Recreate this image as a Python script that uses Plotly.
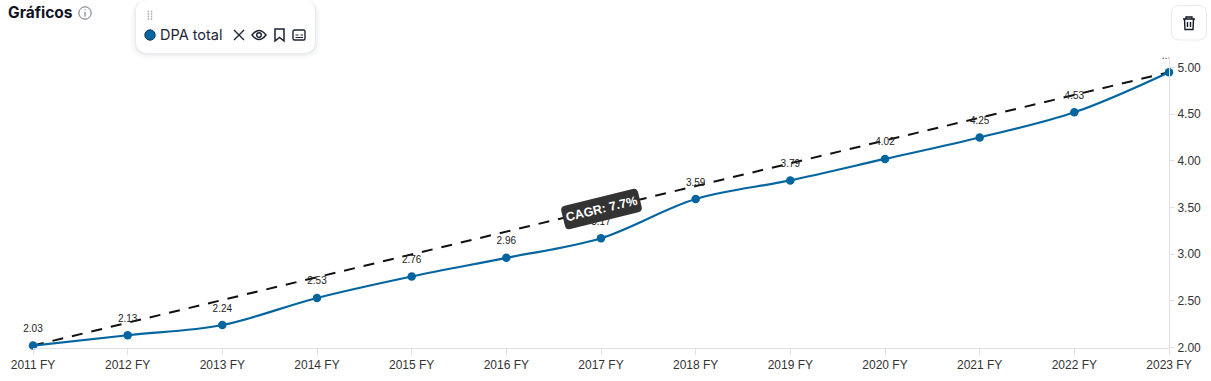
import math
import re
import plotly.graph_objects as go

W, H = 1211, 381

years = ["2011 FY", "2012 FY", "2013 FY", "2014 FY", "2015 FY", "2016 FY", "2017 FY",
         "2018 FY", "2019 FY", "2020 FY", "2021 FY", "2022 FY", "2023 FY"]
dpa_total = [2.02, 2.13, 2.24, 2.53, 2.76, 2.96, 3.17, 3.59, 3.79, 4.02, 4.25, 4.52, 4.95]
dpa_labels = ["2.03", "2.13", "2.24", "2.53", "2.76", "2.96", "3.17", "3.59", "3.79", "4.02", "4.25", "4.53", "4.95"]
y_ticks = [2.0, 2.5, 3.0, 3.5, 4.0, 4.5, 5.0]
y_tick_labels = ["2.00", "2.50", "3.00", "3.50", "4.00", "4.50", "5.00"]
cagr_label = "CAGR: 7.7%"

BLUE = "#04659f"
AX = "#e0e2e6"
PLOT_L, PLOT_R, PLOT_T, PLOT_B = 33, 1169, 57.5, 347.5
PX_PER_UNIT = 93.3


def px(x, y):
    return x / W, 1 - y / H


def path(d):
    """Turn a path written in page pixels into paper coordinates."""
    toks = re.findall(r"[A-Za-z]|-?\d+\.?\d*", d)
    out, pending = [], []
    for t in toks:
        if t.isalpha():
            out.append(t)
        else:
            pending.append(float(t))
            if len(pending) == 2:
                a, b = px(*pending)
                out.append(f"{a:.6f},{b:.6f}")
                pending = []
    return " ".join(out)


def rrect(x0, y0, x1, y1, r):
    return (f"M {x0+r} {y0} L {x1-r} {y0} Q {x1} {y0} {x1} {y0+r} L {x1} {y1-r} Q {x1} {y1} {x1-r} {y1} "
            f"L {x0+r} {y1} Q {x0} {y1} {x0} {y1-r} L {x0} {y0+r} Q {x0} {y0} {x0+r} {y0} Z")


def rotated_rrect(cx, cy, w, h, r, deg):
    """Rounded rectangle centred on (cx, cy), turned by deg, in page pixels."""
    a = math.radians(deg)

    def t(u, v):
        return f"{cx + u*math.cos(a) - v*math.sin(a):.2f} {cy + u*math.sin(a) + v*math.cos(a):.2f}"

    x0, x1, y0, y1 = -w / 2, w / 2, -h / 2, h / 2
    return (f"M {t(x0+r, y0)} L {t(x1-r, y0)} Q {t(x1, y0)} {t(x1, y0+r)} L {t(x1, y1-r)} "
            f"Q {t(x1, y1)} {t(x1-r, y1)} L {t(x0+r, y1)} Q {t(x0, y1)} {t(x0, y1-r)} "
            f"L {t(x0, y0+r)} Q {t(x0, y0)} {t(x0+r, y0)} Z")


def circle(cx, cy, r, **kw):
    x0, y1 = px(cx - r, cy - r)
    x1, y0 = px(cx + r, cy + r)
    return dict(type="circle", xref="paper", yref="paper", x0=x0, x1=x1, y0=y0, y1=y1, **kw)


def pshape(d, color="#1d2433", width=1.4, fill=None):
    return dict(type="path", xref="paper", yref="paper", path=path(d),
                line=dict(color=color, width=width), fillcolor=fill or "rgba(0,0,0,0)")


fig = go.Figure()

# CAGR trend
fig.add_trace(go.Scatter(
    x=[years[0], years[-1]], y=[dpa_total[0], dpa_total[-1]], mode="lines",
    line=dict(color="#111111", width=2, dash="11px,9px"), cliponaxis=False, hoverinfo="skip"))

# main series
fig.add_trace(go.Scatter(
    x=years, y=dpa_total, mode="lines+markers",
    line=dict(color=BLUE, width=2.2, shape="spline", smoothing=1.0),
    marker=dict(color=BLUE, size=8.5), cliponaxis=False))

# value labels, offset by an invisible marker radius; the last one is clipped by the plot top
fig.add_trace(go.Scatter(
    x=years[:-1], y=dpa_total[:-1], text=dpa_labels[:-1], mode="markers+text",
    textposition="top center", textfont=dict(family="Liberation Sans", size=10, color="#222222"),
    marker=dict(size=16, color="rgba(0,0,0,0)"), cliponaxis=False, hoverinfo="skip"))
fig.add_trace(go.Scatter(
    x=years[-1:], y=dpa_total[-1:], text=dpa_labels[-1:], mode="markers+text",
    textposition="top center", textfont=dict(family="Liberation Sans", size=10, color="#222222"),
    marker=dict(size=16, color="rgba(0,0,0,0)"), cliponaxis=True, hoverinfo="skip"))

shapes = []
# legend card with soft shadow
for grow, alpha in [(6, 0.012), (4, 0.018), (2.5, 0.025), (1.2, 0.035)]:
    shapes.append(dict(type="path", xref="paper", yref="paper",
                       path=path(rrect(136 - grow, 0, 315 + grow, 53 + grow + 0.5, 12 + grow)),
                       line=dict(width=0), fillcolor=f"rgba(20,30,50,{alpha})"))
shapes.append(dict(type="path", xref="paper", yref="paper", path=path(rrect(136, 0, 315, 53, 12)),
                   line=dict(width=0), fillcolor="#ffffff"))
# drag handle dots
for gx in (148.3, 151.5):
    for gy in (11.5, 14, 16.5, 19):
        shapes.append(circle(gx, gy, 0.9, line=dict(width=0), fillcolor="#b4b8bf"))
# legend dot
shapes.append(circle(150, 35, 5.2, line=dict(color="#16385a", width=1), fillcolor=BLUE))
# close X
shapes.append(pshape("M 234 30 L 244 40 M 244 30 L 234 40"))
# eye
shapes.append(pshape("M 252 35 Q 259 26 266 35 Q 259 44 252 35 Z", width=1.5))
shapes.append(circle(259, 35, 2.3, line=dict(color="#1d2433", width=1.4), fillcolor="rgba(0,0,0,0)"))
# bookmark
shapes.append(pshape("M 275 29 L 284 29 L 284 41 L 279.5 37.5 L 275 41 Z", width=1.5))
# id card
shapes.append(pshape(rrect(293, 30, 305, 40, 1.5), width=1.4))
shapes.append(pshape("M 295.5 35 L 298.5 35 M 300.5 35 L 303 35 M 295.5 37.5 L 303 37.5", width=1))
# info icon
shapes.append(circle(85, 13, 6.2, line=dict(color="#6b7280", width=1), fillcolor="rgba(0,0,0,0)"))
shapes.append(pshape("M 85 12 L 85 16.5", color="#6b7280", width=1.1))
shapes.append(circle(85, 9.8, 0.6, line=dict(width=0), fillcolor="#6b7280"))
# trash button
shapes.append(pshape(rrect(1171.5, 5.5, 1206.5, 40, 8), color="#e8e9ec", width=1, fill="#ffffff"))
shapes.append(pshape("M 1183 19 L 1195 19 M 1186 19 L 1186 17 L 1192 17 L 1192 19 "
                     "M 1184.5 19 L 1185 29.5 L 1193 29.5 L 1193.5 19 "
                     "M 1187.5 22 L 1187.5 27 M 1190.5 22 L 1190.5 27", color="#111827", width=1.4))
# CAGR badge, rotated rounded rectangle
shapes.append(dict(type="path", xref="paper", yref="paper",
                   path=path(rotated_rrect(601.5, 209, 79, 24, 4.5, -13.8)),
                   line=dict(width=0), fillcolor="#333333"))

annotations = [
    dict(x=6 / W, y=1 - 12.5 / H, xref="paper", yref="paper", xanchor="left", yanchor="middle",
         text="<b>Gráficos</b>", showarrow=False, font=dict(family="Inter", size=15.5, color="#10141f")),
    dict(x=158 / W, y=1 - 35 / H, xref="paper", yref="paper", xanchor="left", yanchor="middle",
         text="DPA total", showarrow=False, font=dict(family="Inter", size=14.5, color="#1d2433")),
    dict(x=601.5 / W, y=1 - 208.5 / H, xref="paper", yref="paper", xanchor="center", yanchor="middle",
         text=f"<b>{cagr_label}</b>", textangle=-13.6, showarrow=False,
         font=dict(family="Liberation Sans", size=12.5, color="#ffffff")),
]

fig.update_layout(
    width=W, height=H, margin=dict(l=0, r=0, t=0, b=0), autosize=False,
    paper_bgcolor="#ffffff", plot_bgcolor="#ffffff", showlegend=False,
    shapes=shapes, annotations=annotations,
    xaxis=dict(
        domain=[PLOT_L / W, PLOT_R / W], type="category", categoryorder="array", categoryarray=years,
        range=[0, len(years) - 1], showgrid=False, zeroline=False, showline=True, linecolor=AX, linewidth=1,
        ticks="outside", ticklen=6, tickcolor=AX, tickfont=dict(family="Liberation Sans", size=12, color="#333333"),
        anchor="y", automargin=False),
    yaxis=dict(
        domain=[1 - PLOT_B / H, 1 - PLOT_T / H], side="right", anchor="x",
        range=[2 - 0.001, 5 + 10 / PX_PER_UNIT],
        tickvals=y_ticks, ticktext=y_tick_labels, showgrid=False, zeroline=False,
        showline=True, linecolor=AX, linewidth=1, ticks="outside", ticklen=5, tickcolor=AX,
        tickfont=dict(family="Liberation Sans", size=12, color="#333333"), automargin=False),
)

fig.write_html("out.html", config=dict(displayModeBar=False),
               post_script="document.body.style.margin='0';document.body.style.overflow='hidden';")
